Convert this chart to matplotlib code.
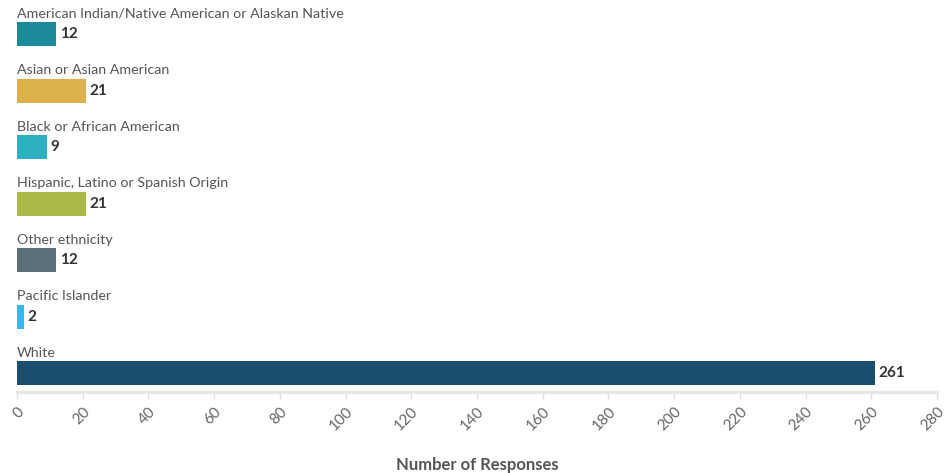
import matplotlib
matplotlib.use("Agg")
import matplotlib.pyplot as plt

categories = [
    "American Indian/Native American or Alaskan Native",
    "Asian or Asian American",
    "Black or African American",
    "Hispanic, Latino or Spanish Origin",
    "Other ethnicity",
    "Pacific Islander",
    "White",
]
values = [12, 21, 9, 21, 12, 2, 261]
colors = ["#1b8a99", "#dcb04a", "#2bb0c0", "#adb84a", "#5a6f77", "#3bb5f0", "#1a4e6e"]
xticks = list(range(0, 281, 20))

plt.rcParams['font.family'] = ['Lato', 'DejaVu Sans']

fig = plt.figure(figsize=(9.46, 4.73), dpi=100)
ax = fig.add_axes([17/946, (473-392)/473, 920/946, 392/473])

pos = list(range(len(categories)))
ax.barh(pos, values, height=0.425, color=colors, edgecolor="none")
ax.set_ylim(6.336, -0.602)
ax.set_xlim(0, 280)

for i, (c, v) in enumerate(zip(categories, values)):
    ax.text(0, i - 0.355, c, ha='left', va='center', fontsize=10.3, color='#555555')
    ax.annotate(str(v), (v, i), xytext=(2.5, 0), textcoords='offset points',
                ha='left', va='center', fontsize=11, fontweight='bold', color='#333333')

for s in ['top', 'right', 'left']:
    ax.spines[s].set_visible(False)
ax.spines['bottom'].set_color('#e6e6e6')
ax.spines['bottom'].set_linewidth(2.5)
ax.set_yticks([])
ax.set_xticks(xticks)
ax.set_xticklabels([str(t) for t in xticks], rotation=45, ha='right', rotation_mode='anchor',
                   fontsize=11, color='#666666')
ax.tick_params(axis='x', length=5, width=1, color='#dddddd', pad=4)
ax.set_xlabel("Number of Responses", fontsize=12, fontweight='bold', color='#555555', labelpad=17)

fig.savefig("out.png", dpi=100)
